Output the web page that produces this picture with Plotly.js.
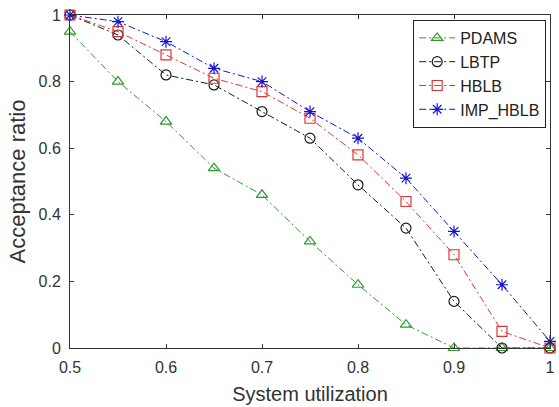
<!DOCTYPE html>
<html>
<head>
<meta charset="utf-8">
<script src="https://cdn.plot.ly/plotly-3.0.1.min.js"></script>
<style>html,body{margin:0;padding:0;background:#fff;}#chart{width:559px;height:407px;}</style>
</head>
<body>
<div id="chart"></div>
<script>
const utilization = [0.5, 0.55, 0.6, 0.65, 0.7, 0.75, 0.8, 0.85, 0.9, 0.95, 1.0];
const pdams   = [0.95, 0.80, 0.68, 0.54, 0.46, 0.32, 0.19, 0.07, 0.00, 0.00, 0.00];
const lbtp    = [1.00, 0.94, 0.82, 0.79, 0.71, 0.63, 0.49, 0.36, 0.14, 0.00, 0.00];
const hblb    = [1.00, 0.95, 0.88, 0.81, 0.77, 0.69, 0.58, 0.44, 0.28, 0.05, 0.00];
const impHblb = [1.00, 0.98, 0.92, 0.84, 0.80, 0.71, 0.63, 0.51, 0.35, 0.19, 0.02];
const seriesNames = ['PDAMS', 'LBTP', 'HBLB', 'IMP_HBLB'];
const xTicks = [0.5, 0.6, 0.7, 0.8, 0.9, 1];
const yTicks = [0, 0.2, 0.4, 0.6, 0.8, 1];

const dash = '7px,3px,2px,3px';
function mk(y, name, color, symbol) {
  return {
    x: utilization, y: y, name: name, type: 'scatter', mode: 'lines+markers',
    line: {color: color, width: 1, dash: dash},
    marker: {symbol: symbol, size: 10, color: color, line: {color: color, width: 1.2}},
    cliponaxis: false
  };
}
const data = [
  mk(pdams, seriesNames[0], '#2e9a2e', 'triangle-up-open'),
  mk(lbtp, seriesNames[1], '#1a1a1a', 'circle-open'),
  mk(hblb, seriesNames[2], '#e03434', 'square-open'),
  mk(impHblb, seriesNames[3], '#1414d2', 'asterisk-open')
];
const FONT = 'Liberation Sans, Arial, sans-serif';
const axisCommon = {
  showgrid: false, zeroline: false, showline: true, mirror: 'ticks',
  linecolor: '#333', linewidth: 1, ticks: 'inside', ticklen: 4, tickcolor: '#333',
  tickfont: {family: FONT, size: 16, color: '#333'}
};
const layout = {
  width: 559, height: 407,
  margin: {l: 70, r: 9, t: 15, b: 59},
  paper_bgcolor: '#fff', plot_bgcolor: '#fff',
  font: {family: FONT, color: '#333'},
  xaxis: Object.assign({}, axisCommon, {
    range: [0.5, 1], tickmode: 'array', tickvals: xTicks, ticklabelstandoff: 5,
    title: {text: 'System utilization', font: {size: 20, color: '#333'}, standoff: 11}
  }),
  yaxis: Object.assign({}, axisCommon, {
    range: [0, 1], tickmode: 'array', tickvals: yTicks, ticklabelstandoff: 5,
    title: {text: 'Acceptance ratio', font: {size: 22, color: '#333'}, standoff: 6}
  }),
  showlegend: true,
  legend: {
    x: 0.715, y: 0.985, xanchor: 'left', yanchor: 'top',
    bgcolor: '#fff', bordercolor: '#222', borderwidth: 1,
    font: {size: 16, color: '#222'}, tracegroupgap: 0, itemwidth: 36
  }
};
Plotly.newPlot('chart', data, layout, {displayModeBar: false, staticPlot: true});
</script>
</body>
</html>
